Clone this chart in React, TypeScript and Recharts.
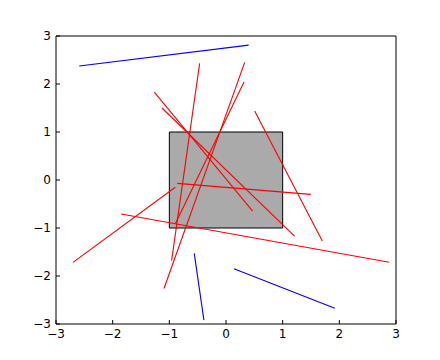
import React from "react";
import {
  ScatterChart,
  Scatter,
  XAxis,
  YAxis,
  ReferenceArea,
} from "recharts";

const ticks = [-3, -2, -1, 0, 1, 2, 3];
const axisDomain: [number, number] = [-3, 3];

const rectX: [number, number] = [-1, 1];
const rectY: [number, number] = [-1, 1];

const redX1 = [-1.85, -2.7, -0.86, -0.96, -1.094, -0.89, -1.265, -1.13, 0.506];
const redY1 = [-0.71, -1.715, -0.07, -1.68, -2.26, -0.9, 1.83, 1.5, 1.44];
const redX2 = [2.88, -0.895, 1.495, -0.465, 0.33, 0.318, 0.47, 1.21, 1.7];
const redY2 = [-1.715, -0.15, -0.3, 2.43, 2.45, 2.04, -0.65, -1.17, -1.27];

const blueX1 = [-2.59, -0.56, 0.14];
const blueY1 = [2.375, -1.53, -1.85];
const blueX2 = [0.4, -0.39, 1.92];
const blueY2 = [2.81, -2.92, -2.67];

const buildSegments = (x1: number[], y1: number[], x2: number[], y2: number[]) =>
  x1.map((_, i) => [
    { x: x1[i], y: y1[i] },
    { x: x2[i], y: y2[i] },
  ]);

const redSegments = buildSegments(redX1, redY1, redX2, redY2);
const blueSegments = buildSegments(blueX1, blueY1, blueX2, blueY2);

const fmt = (v: number) => String(v).replace("-", "\u2212");

const tickStyle = {
  fontFamily: "DejaVu Sans",
  fontSize: 12,
  fill: "#000",
};

const NoShape = () => <g />;

export default function App() {
  return (
    <ScatterChart
      width={432}
      height={344}
      margin={{ top: 27, right: 43, bottom: 0, left: 0 }}
      style={{ background: "#fff" }}
    >
      <XAxis
        xAxisId="b"
        type="number"
        dataKey="x"
        domain={axisDomain}
        ticks={ticks}
        allowDataOverflow
        height={28}
        tickSize={-4}
        tickMargin={9.5}
        tickFormatter={fmt}
        tick={tickStyle}
        stroke="#000"
        tickLine={{ stroke: "#000" }}
        axisLine={{ stroke: "#000" }}
      />
      <XAxis
        xAxisId="t"
        orientation="top"
        type="number"
        dataKey="x"
        domain={axisDomain}
        ticks={ticks}
        allowDataOverflow
        height={1}
        tickSize={-4}
        tick={false}
        stroke="#000"
        tickLine={{ stroke: "#000" }}
        axisLine={{ stroke: "#000" }}
      />
      <YAxis
        yAxisId="l"
        type="number"
        dataKey="y"
        domain={axisDomain}
        ticks={ticks}
        allowDataOverflow
        width={48}
        tickSize={-4}
        tickMargin={9}
        tickFormatter={fmt}
        tick={tickStyle}
        stroke="#000"
        tickLine={{ stroke: "#000" }}
        axisLine={{ stroke: "#000" }}
      />
      <YAxis
        yAxisId="r"
        orientation="right"
        type="number"
        dataKey="y"
        domain={axisDomain}
        ticks={ticks}
        allowDataOverflow
        width={1}
        tickSize={-4}
        tick={false}
        stroke="#000"
        tickLine={{ stroke: "#000" }}
        axisLine={{ stroke: "#000" }}
      />
      <ReferenceArea
        xAxisId="b"
        yAxisId="l"
        x1={rectX[0]}
        x2={rectX[1]}
        y1={rectY[0]}
        y2={rectY[1]}
        fill="#aaaaaa"
        fillOpacity={1}
        stroke="#000"
        strokeWidth={1}
      />
      {redSegments.map((seg, i) => (
        <Scatter
          key={"r" + i}
          xAxisId="b"
          yAxisId="l"
          data={seg}
          fill="#ff0000"
          line={{ stroke: "#ff0000", strokeWidth: 1.1 }}
          shape={NoShape}
          isAnimationActive={false}
        />
      ))}
      {blueSegments.map((seg, i) => (
        <Scatter
          key={"b" + i}
          xAxisId="b"
          yAxisId="l"
          data={seg}
          fill="#0000ff"
          line={{ stroke: "#0000ff", strokeWidth: 1.1 }}
          shape={NoShape}
          isAnimationActive={false}
        />
      ))}
    </ScatterChart>
  );
}
